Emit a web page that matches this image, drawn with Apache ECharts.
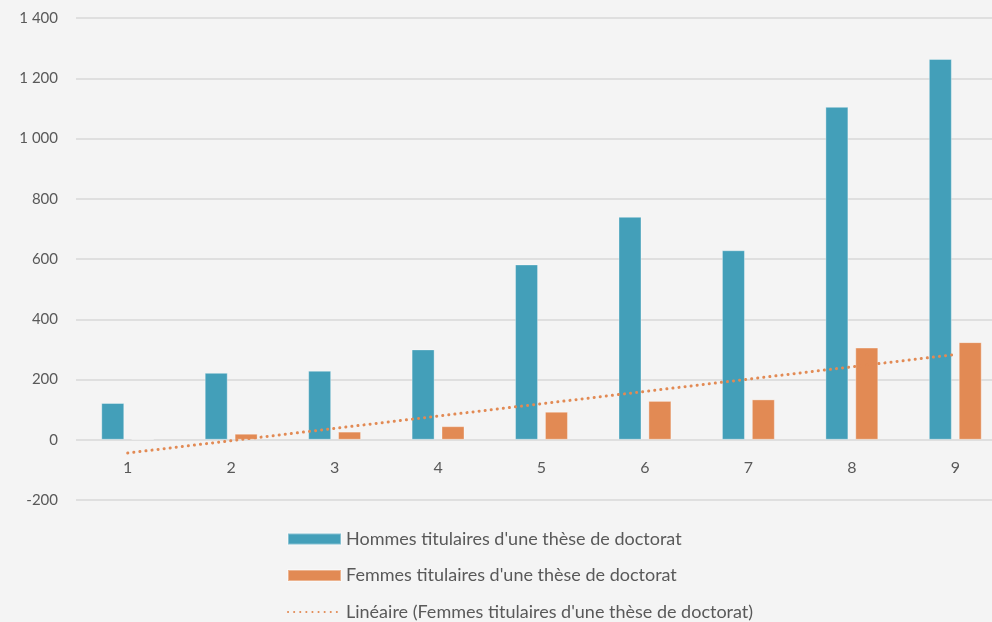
<!DOCTYPE html>
<html>
<head>
<meta charset="utf-8">
<script src="https://cdn.jsdelivr.net/npm/echarts@6/dist/echarts.min.js"></script>
<style>
  html, body { margin: 0; padding: 0; background: #f4f4f4; }
  #chart { width: 992px; height: 622px; }
</style>
</head>
<body>
<div id="chart"></div>
<script>
// categories on the x axis
const categories = ["1", "2", "3", "4", "5", "6", "7", "8", "9"];
// bar values
const hommes = [122, 222, 229, 300, 582, 740, 629, 1105, 1264];
const femmes = [3, 20, 27, 45, 93, 129, 134, 306, 324];
// trend line: only the two end points, drawn straight between them
const tendance = [-44, null, null, null, null, null, null, null, 283];

const nomHommes = "Hommes titulaires d'une thèse de doctorat";
const nomFemmes = "Femmes titulaires d'une thèse de doctorat";
const nomTendance = "Linéaire (Femmes titulaires d'une thèse de doctorat)";

const police = "Lato, 'Open Sans', sans-serif";

const chart = echarts.init(document.getElementById("chart"));
chart.setOption({
  backgroundColor: "#f4f4f4",
  animation: false,
  textStyle: { fontFamily: police, color: "#595959" },
  // plot runs a little past the right edge, like the cropped original
  grid: { left: 76, width: 931, top: 18, bottom: 122, outerBoundsMode: "none" },
  legend: {
    orient: "vertical",
    left: 282,
    top: 525,
    height: 120,
    itemWidth: 53,
    itemHeight: 11,
    itemGap: 18.5,
    textStyle: { fontSize: 18, color: "#595959", fontFamily: police },
    data: [
      { name: nomHommes, icon: "rect" },
      { name: nomFemmes, icon: "rect" },
      { name: nomTendance, itemStyle: { opacity: 0 } }
    ]
  },
  xAxis: {
    type: "category",
    data: categories,
    // axis sits on the zero line (200 units = 60.25 px above the bottom)
    offset: -60.25,
    axisLine: { show: false, onZero: false },
    axisTick: { show: false },
    axisLabel: { fontSize: 16, color: "#595959", margin: 20 }
  },
  yAxis: {
    type: "value",
    min: -200,
    max: 1400,
    interval: 200,
    axisLine: { show: false },
    axisTick: { show: false },
    axisLabel: {
      fontSize: 15,
      color: "#595959",
      margin: 18,
      formatter: (v) => String(v).replace(/\B(?=(\d{3})+(?!\d))/g, " ")
    },
    splitLine: { lineStyle: { color: "#d9d9d9", width: 1.5 } }
  },
  series: [
    {
      name: nomHommes,
      type: "bar",
      data: hommes,
      barWidth: 23,
      barGap: "30%",
      itemStyle: { color: "#439fb9", borderColor: "rgba(255,255,255,0.35)", borderWidth: 1 }
    },
    {
      name: nomFemmes,
      type: "bar",
      data: femmes,
      barWidth: 23,
      itemStyle: { color: "#e28a54", borderColor: "rgba(255,255,255,0.35)", borderWidth: 1 }
    },
    {
      name: nomTendance,
      type: "line",
      data: tendance,
      connectNulls: true,
      symbol: "none",
      z: 5,
      itemStyle: { color: "#e28a54" },
      lineStyle: { color: "#e28a54", width: 3, type: [0.1, 6], cap: "round" }
    }
  ]
});
</script>
</body>
</html>
